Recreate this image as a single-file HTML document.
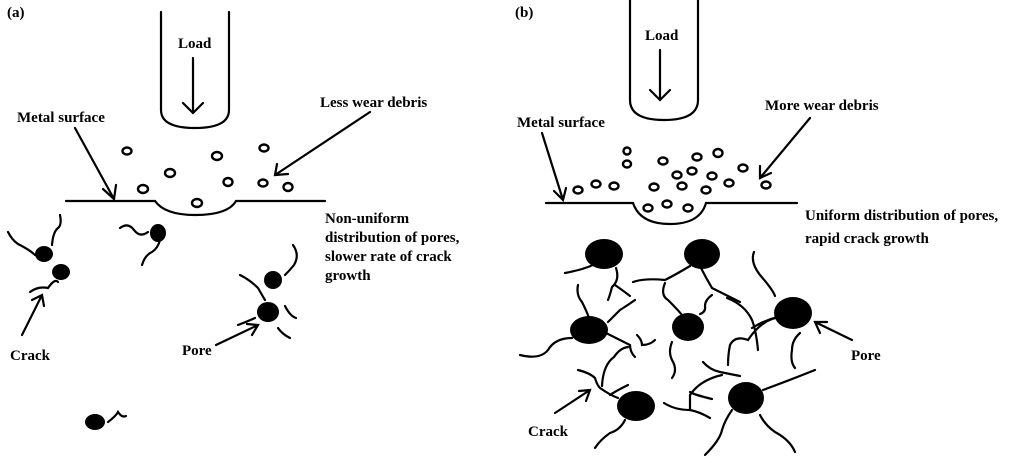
<!DOCTYPE html>
<html><head><meta charset="utf-8"><style>
html,body{margin:0;padding:0;background:#fff;}
svg{display:block}
text{font-family:"Liberation Serif",serif;font-weight:bold;font-size:15px;fill:#000}
</style></head><body>
<svg width="1034" height="463" viewBox="0 0 1034 463" xmlns="http://www.w3.org/2000/svg">
<g fill="none" stroke="#000" stroke-width="2.2" stroke-linecap="round">
<!-- Panel A -->
<path d="M161 12 V110 Q161 128 195 128 Q229 128 229 110 V12"/>
<path d="M193 58 V113 M183 103 L193 113 L203 103"/>
<path d="M66 201 H155 Q165 215 195 215 Q228 215 236 201 H325"/>
<path d="M75 128 L114 199 M103 189 L114 199 L116 185"/>
<path d="M370 112 L275 175 M277 164 L275 175 L288 174"/>
<g stroke-width="2.4">
<ellipse cx="127" cy="151" rx="4.5" ry="3.5"/><ellipse cx="217" cy="156" rx="5" ry="4"/><ellipse cx="264" cy="148" rx="4.5" ry="3.5"/>
<ellipse cx="170" cy="173" rx="5" ry="4"/><ellipse cx="228" cy="182" rx="4.5" ry="4"/><ellipse cx="263" cy="183" rx="4.5" ry="3.5"/>
<ellipse cx="288" cy="187" rx="4.5" ry="4"/><ellipse cx="143" cy="189" rx="5" ry="4"/><ellipse cx="197" cy="203" rx="5" ry="4"/>
</g>
<path d="M8 232 Q12 240 18 244 Q30 250 35 255"/>
<path d="M52 245 Q53 232 58 228 Q62 225 60 215"/>
<path d="M120 228 Q128 222 134 230 Q140 238 148 232"/>
<path d="M160 240 Q158 248 152 252 Q145 255 142 265"/>
<path d="M30 292 Q38 286 48 288 Q55 278 58 282"/>
<path d="M293 245 Q300 255 294 265 Q290 270 285 275"/>
<path d="M240 275 Q250 280 258 288 Q262 295 265 300"/>
<path d="M285 306 Q290 316 296 318"/>
<path d="M255 318 Q246 322 238 325"/>
<path d="M278 328 Q282 334 290 338"/>
<path d="M108 422 Q116 416 118 412 Q122 418 126 416"/>
<path d="M22 335 L42 295 M32 300 L42 295 L44 306"/>
<path d="M216 345 L258 325 M247 324 L258 325 L252 335"/>
<!-- Panel B -->
<path d="M630 0 V100 Q630 120 664 120 Q698 120 698 100 V0"/>
<path d="M660 50 V100 M650 90 L660 100 L670 90"/>
<path d="M546 203 H633 Q640 224 670 224 Q700 224 706 203 H797"/>
<path d="M542 133 L563 200 M554 191 L563 200 L566 188"/>
<path d="M810 118 L760 178 M760 166 L760 178 L771 173"/>
<g stroke-width="2.4">
<ellipse cx="627" cy="151" rx="3.5" ry="3.5"/><ellipse cx="627" cy="164" rx="4" ry="3.5"/><ellipse cx="663" cy="161" rx="4.5" ry="3.5"/>
<ellipse cx="697" cy="157" rx="4.5" ry="3.5"/><ellipse cx="718" cy="153" rx="4.5" ry="4"/><ellipse cx="743" cy="168" rx="4.5" ry="3.5"/>
<ellipse cx="677" cy="175" rx="4.5" ry="3.5"/><ellipse cx="692" cy="171" rx="4.5" ry="3.5"/><ellipse cx="712" cy="176" rx="4.5" ry="3.5"/>
<ellipse cx="578" cy="190" rx="4.5" ry="3.5"/><ellipse cx="596" cy="184" rx="4.5" ry="3.5"/><ellipse cx="614" cy="186" rx="4.5" ry="3.5"/>
<ellipse cx="654" cy="187" rx="4.5" ry="3.5"/><ellipse cx="682" cy="186" rx="4.5" ry="3.5"/><ellipse cx="706" cy="190" rx="4.5" ry="3.5"/>
<ellipse cx="729" cy="183" rx="4.5" ry="3.5"/><ellipse cx="766" cy="185" rx="4.5" ry="3.5"/><ellipse cx="648" cy="208" rx="4.5" ry="3.5"/>
<ellipse cx="667" cy="204" rx="4.5" ry="3.5"/><ellipse cx="688" cy="208" rx="4.5" ry="3.5"/>
</g>
<path d="M565 273 Q580 270 585 268 Q595 265 600 260"/>
<path d="M578 285 Q576 295 582 302 Q587 312 589 318"/>
<path d="M616 268 Q620 280 612 287 Q610 295 608 300 M615 285 Q625 292 630 296"/>
<path d="M635 300 Q628 305 620 310 Q612 318 608 322"/>
<path d="M633 282 Q645 278 665 280 Q675 275 690 266"/>
<path d="M665 283 Q660 295 668 300 Q678 310 682 315"/>
<path d="M701 268 Q706 278 712 288 Q720 292 740 302"/>
<path d="M712 295 Q705 300 705 306 Q706 312 700 314"/>
<path d="M754 252 Q750 262 760 275 Q773 290 775 296"/>
<path d="M727 298 Q745 305 752 320 Q756 330 758 350"/>
<path d="M775 318 Q760 322 748 340 Q735 335 730 345 Q728 355 728 365 M752 328 Q765 320 778 317"/>
<path d="M572 338 Q555 338 548 350 Q540 360 520 355"/>
<path d="M606 333 Q620 340 630 345 Q630 352 635 357 M628 347 Q620 348 614 357 Q603 365 602 386"/>
<path d="M637 335 Q642 340 642 345 Q650 345 655 340"/>
<path d="M672 342 Q668 352 672 360 Q678 370 672 378"/>
<path d="M800 333 Q792 340 792 350 Q790 362 795 368"/>
<path d="M703 362 Q710 370 720 372 Q735 375 740 376 M722 375 Q700 380 690 395 Q690 405 690 410"/>
<path d="M712 399 Q695 395 690 392"/>
<path d="M578 370 Q590 373 595 378 Q597 385 600 388 Q610 395 618 398"/>
<path d="M628 385 Q614 392 610 395"/>
<path d="M664 403 Q675 410 690 410 Q700 412 710 418"/>
<path d="M625 420 Q620 430 610 433 Q600 440 595 448"/>
<path d="M763 390 Q790 380 815 370"/>
<path d="M732 410 Q725 420 722 430 Q720 440 705 455"/>
<path d="M760 415 Q765 425 775 432 Q790 440 795 452"/>
<path d="M555 413 L590 390 M579 391 L590 390 L586 401"/>
<path d="M852 340 L815 322 M820 333 L815 322 L827 322"/>
</g>
<g fill="#000">
<ellipse cx="44" cy="254" rx="9" ry="8"/><ellipse cx="61" cy="272" rx="9" ry="8"/><ellipse cx="158" cy="233" rx="8" ry="9"/>
<ellipse cx="273" cy="280" rx="9" ry="9"/><ellipse cx="268" cy="312" rx="11" ry="10"/><ellipse cx="95" cy="422" rx="10" ry="8"/>
<ellipse cx="604" cy="254" rx="19" ry="15"/><ellipse cx="702" cy="254" rx="18" ry="15"/><ellipse cx="589" cy="330" rx="19" ry="14"/>
<ellipse cx="688" cy="327" rx="16" ry="14"/><ellipse cx="793" cy="313" rx="19" ry="16"/><ellipse cx="636" cy="406" rx="19" ry="15"/>
<ellipse cx="746" cy="398" rx="18" ry="16"/>
</g>
<text x="7" y="17">(a)</text>
<text x="178" y="48">Load</text>
<text x="17" y="122">Metal surface</text>
<text x="320" y="107">Less wear debris</text>
<text x="325" y="223">Non-uniform</text>
<text x="325" y="242">distribution of pores,</text>
<text x="325" y="261">slower rate of crack</text>
<text x="325" y="280">growth</text>
<text x="10" y="360">Crack</text>
<text x="182" y="355">Pore</text>
<text x="515" y="17">(b)</text>
<text x="645" y="40">Load</text>
<text x="517" y="127">Metal surface</text>
<text x="765" y="110">More wear debris</text>
<text x="805" y="220">Uniform distribution of pores,</text>
<text x="805" y="243">rapid crack growth</text>
<text x="851" y="360">Pore</text>
<text x="528" y="436">Crack</text>
</svg>
</body></html>
